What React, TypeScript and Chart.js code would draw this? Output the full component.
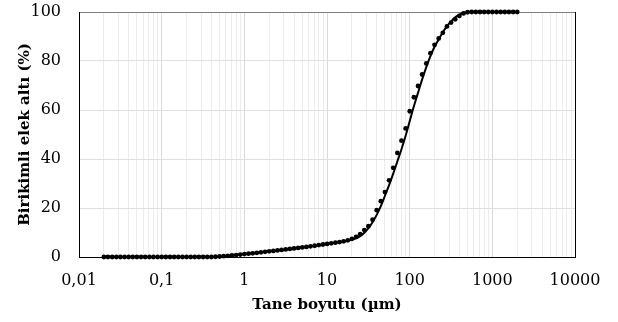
import React, { useEffect, useRef } from "react";
import { Chart, registerables } from "chart.js";

Chart.register(...registerables);

// Particle sizes (µm)
const sizes: number[] = [
  0.02, 0.0224, 0.0252, 0.0283, 0.0317, 0.0356, 0.0399, 0.0448, 0.0502, 0.0564,
  0.0632, 0.071, 0.0796, 0.0893, 0.1002, 0.1125, 0.1262, 0.1416, 0.1589, 0.1783,
  0.2, 0.2244, 0.2518, 0.2825, 0.317, 0.3557, 0.3991, 0.4477, 0.5024, 0.5637,
  0.6325, 0.7096, 0.7962, 0.8934, 1.0024, 1.1247, 1.2619, 1.4159, 1.5887, 1.7825,
  2.0, 2.244, 2.5179, 2.8251, 3.1698, 3.5566, 3.9905, 4.4774, 5.0238, 5.6368,
  6.3246, 7.0963, 7.9621, 8.9337, 10.024, 11.247, 12.619, 14.159, 15.887, 17.825,
  20.0, 22.44, 25.179, 28.251, 31.698, 35.566, 39.905, 44.774, 50.238, 56.368,
  63.246, 70.963, 79.621, 89.337, 100.24, 112.47, 126.19, 141.59, 158.87, 178.25,
  200.0, 224.4, 251.79, 282.51, 316.98, 355.66, 399.05, 447.74, 502.38, 563.68,
  632.46, 709.63, 796.21, 893.37, 1002.4, 1124.7, 1261.9, 1415.9, 1588.7, 1782.5,
  2000.0,
];

// Measured cumulative passing (%) — dots
const measured: number[] = [
  0, 0, 0, 0, 0, 0, 0, 0, 0, 0,
  0, 0, 0, 0, 0, 0, 0, 0, 0, 0,
  0, 0, 0, 0, 0, 0, 0.0, 0.1, 0.2, 0.35,
  0.5, 0.65, 0.8, 1.0, 1.2, 1.35, 1.5, 1.7, 1.9, 2.1,
  2.3, 2.5, 2.7, 2.9, 3.1, 3.3, 3.5, 3.7, 3.9, 4.1,
  4.35, 4.6, 4.85, 5.1, 5.35, 5.6, 5.85, 6.1, 6.4, 6.8,
  7.4, 8.2, 9.3, 11.0, 12.6, 15.2, 19.1, 22.8, 26.5, 31.3,
  36.4, 42.5, 47.5, 52.5, 59.5, 65.2, 69.8, 74.5, 79.0, 83.2,
  86.6, 89.2, 91.5, 94.1, 95.7, 97.0, 98.4, 99.4, 99.9, 100,
  100, 100, 100, 100, 100, 100, 100, 100, 100, 100,
  100,
];

// Fitted curve (%) — solid line
const fitted: number[] = [
  0, 0, 0, 0, 0, 0, 0, 0, 0, 0,
  0, 0, 0, 0, 0, 0, 0, 0, 0, 0,
  0, 0, 0, 0, 0, 0, 0.0, 0.1, 0.2, 0.35,
  0.5, 0.65, 0.8, 1.0, 1.2, 1.35, 1.5, 1.7, 1.9, 2.1,
  2.3, 2.5, 2.7, 2.9, 3.1, 3.3, 3.5, 3.7, 3.9, 4.1,
  4.35, 4.6, 4.85, 5.1, 5.35, 5.6, 5.85, 6.1, 6.35, 6.65,
  7.0, 7.6, 8.5, 9.9, 11.8, 14.2, 17.2, 20.8, 25.0, 29.3,
  34.0, 39.0, 44.0, 49.5, 55.5, 61.5, 67.0, 72.5, 77.5, 82.0,
  85.8, 88.8, 91.7, 94.2, 96.2, 97.8, 98.9, 99.6, 100, 100,
  100, 100, 100, 100, 100, 100, 100, 100, 100, 100,
  100,
];

const xLabels: Record<string, string> = {
  "0.01": "0,01",
  "0.1": "0,1",
  "1": "1",
  "10": "10",
  "100": "100",
  "1000": "1000",
  "10000": "10000",
};

const yTicks: number[] = [0, 20, 40, 60, 80, 100];

const X_MIN = 0.01;
const X_MAX = 10000;

function isDecade(v: number): boolean {
  const l = Math.log10(v);
  return Math.abs(l - Math.round(l)) < 1e-9;
}

function decadeKey(v: number): string {
  const e = Math.round(Math.log10(v));
  return e < 0 ? (Math.pow(10, e)).toFixed(-e) : String(Math.pow(10, e));
}

export default function App() {
  const ref = useRef<HTMLCanvasElement | null>(null);

  useEffect(() => {
    if (!ref.current) return;
    const font = "'DejaVu Serif', serif";
    const chart = new Chart(ref.current, {
      type: "scatter",
      data: {
        datasets: [
          {
            label: "Ölçüm",
            data: sizes.map((x, i) => ({ x, y: measured[i] })),
            showLine: false,
            pointRadius: 2.4,
            pointHoverRadius: 2.4,
            pointBackgroundColor: "#000",
            pointBorderColor: "#000",
            pointBorderWidth: 0,
            clip: false as any,
          },
          {
            label: "Model",
            data: sizes.map((x, i) => ({ x, y: fitted[i] })),
            showLine: true,
            borderColor: "#000",
            borderWidth: 2,
            pointRadius: 0,
            tension: 0.3,
            cubicInterpolationMode: "monotone",
            clip: false as any,
          },
        ],
      },
      options: {
        animation: false,
        responsive: false,
        events: [],
        layout: { padding: { left: 0, top: 12, right: 43, bottom: 0 } },
        plugins: {
          legend: { display: false },
          tooltip: { enabled: false },
        },
        scales: {
          x: {
            type: "logarithmic",
            min: X_MIN,
            max: X_MAX,
            afterBuildTicks: (scale: any) => {
              const t: any[] = [];
              for (let e = -2; e <= 3; e++) {
                for (let m = 1; m <= 9; m++) {
                  t.push({ value: m * Math.pow(10, e), major: m === 1 });
                }
              }
              t.push({ value: 10000, major: true });
              scale.ticks = t;
            },
            afterFit: (scale: any) => {
              scale.height = 65;
              scale.paddingLeft = 0;
              scale.paddingRight = 0;
            },
            ticks: {
              autoSkip: false,
              maxRotation: 0,
              minRotation: 0,
              padding: 14,
              color: "#000",
              font: { family: font, size: 16 },
              callback: (v: any) => (isDecade(Number(v)) ? xLabels[decadeKey(Number(v))] : ""),
            },
            grid: {
              drawTicks: false,
              lineWidth: 1,
              color: (ctx: any) => {
                const v = ctx.tick ? ctx.tick.value : 0;
                if (Math.abs(v - 10000) < 1e-6) return "#000";
                if (isDecade(v)) return "#d9d9d9";
                return "#ececec";
              },
            },
            border: { color: "#000", width: 1 },
            title: {
              display: true,
              text: "Tane boyutu (µm)",
              color: "#000",
              font: { family: font, size: 15, weight: "bold" },
              padding: { top: 4, bottom: 8 },
            },
          },
          y: {
            type: "linear",
            min: 0,
            max: 100,
            afterBuildTicks: (scale: any) => {
              scale.ticks = yTicks.map((v) => ({ value: v }));
            },
            afterFit: (scale: any) => {
              scale.width = 79;
              scale.paddingTop = 0;
              scale.paddingBottom = 0;
            },
            ticks: {
              padding: 18,
              color: "#000",
              font: { family: font, size: 16 },
            },
            grid: {
              drawTicks: false,
              lineWidth: 1,
              color: (ctx: any) => {
                const v = ctx.tick ? ctx.tick.value : 0;
                if (v === 100) return "#808080";
                return "#e0e0e0";
              },
            },
            border: { color: "#000", width: 1 },
            title: {
              display: true,
              text: "Birikimli elek altı (%)",
              color: "#000",
              font: { family: font, size: 15, weight: "bold" },
              padding: { top: 16, bottom: 4 },
            },
          },
        },
      },
    });
    return () => chart.destroy();
  }, []);

  return (
    <div style={{ position: "fixed", left: 0, top: 0, width: 618, height: 322, background: "#fff" }}>
      <canvas ref={ref} width={618} height={322} style={{ display: "block" }} />
    </div>
  );
}
